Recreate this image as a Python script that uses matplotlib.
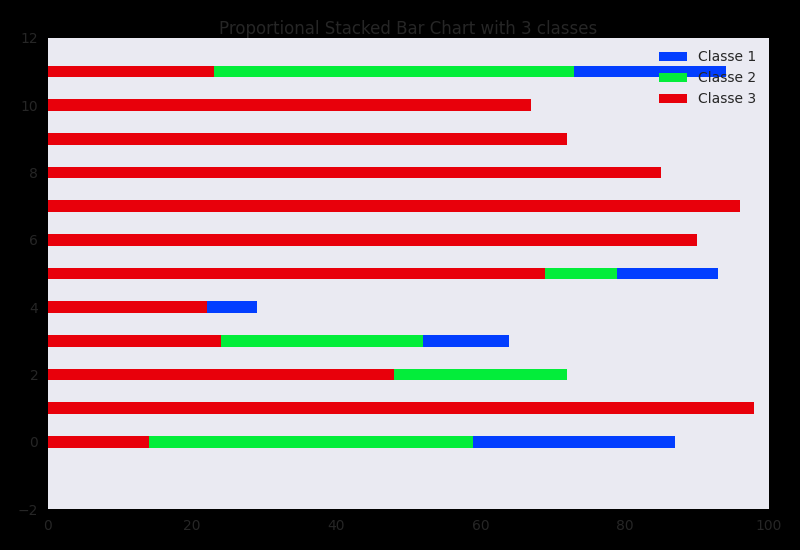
import matplotlib
matplotlib.use("Agg")
import matplotlib.pyplot as plt
import numpy as np

rows = np.arange(12)
classe3 = [14, 98, 48, 24, 22, 69, 90, 96, 85, 72, 67, 23]
classe2 = [45, 0, 24, 28, 0, 10, 0, 0, 0, 0, 0, 50]
classe1 = [28, 0, 0, 12, 7, 14, 0, 0, 0, 0, 0, 21]
labels = ["Classe 1", "Classe 2", "Classe 3"]
colors = {"Classe 1": "#023EFF", "Classe 2": "#03ED3A", "Classe 3": "#E8000B"}

text_color = "#262626"
fig = plt.figure(figsize=(8, 5.5), dpi=100, facecolor="black")
ax = fig.add_axes([0.06, 0.0745, 0.901, 0.8565])
ax.set_facecolor("#EAEAF2")
for s in ax.spines.values():
    s.set_visible(False)

c3 = np.array(classe3)
c2 = np.array(classe2)
c1 = np.array(classe1)
h = 0.35
b1 = ax.barh(rows, c1, height=h, left=c3 + c2, color=colors["Classe 1"], label="Classe 1")
b2 = ax.barh(rows, c2, height=h, left=c3, color=colors["Classe 2"], label="Classe 2")
b3 = ax.barh(rows, c3, height=h, color=colors["Classe 3"], label="Classe 3")

ax.set_xlim(0, 100)
ax.set_ylim(-2, 12)
ax.set_yticks(np.arange(-2, 13, 2))
ax.set_xticks(np.arange(0, 101, 20))
ax.tick_params(length=0, colors=text_color, labelsize=10, pad=7)
ax.set_title("Proportional Stacked Bar Chart with 3 classes", color=text_color, fontsize=12, pad=3)
leg = ax.legend(handles=[b1, b2, b3], loc="upper right", frameon=False, fontsize=10)
for t in leg.get_texts():
    t.set_color(text_color)

fig.savefig("out.png", dpi=100, facecolor="black")
